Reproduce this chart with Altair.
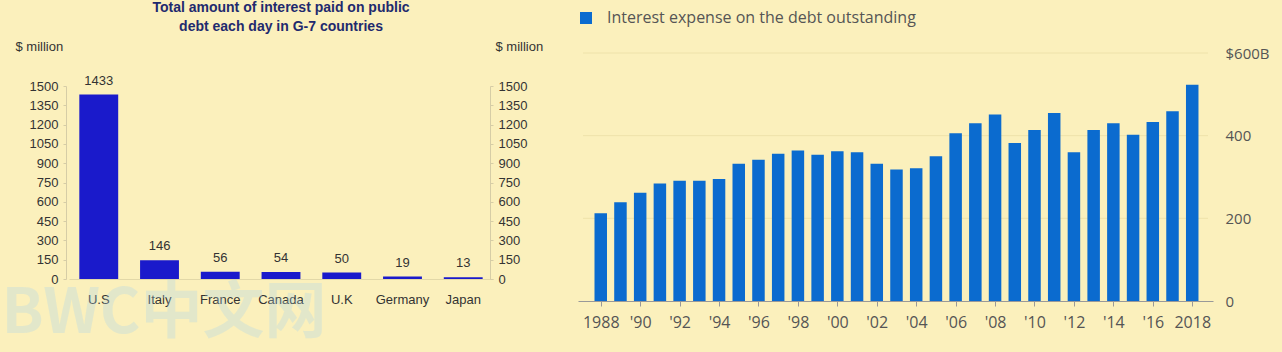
import altair as alt
import pandas as pd

# ---------------- data ----------------
countries = ["U.S", "Italy", "France", "Canada", "U.K", "Germany", "Japan"]
daily_interest = [1433, 146, 56, 54, 50, 19, 13]

years = [1988, 1989, 1990, 1991, 1992, 1993, 1994, 1995, 1996, 1997, 1998,
         1999, 2000, 2001, 2002, 2003, 2004, 2005, 2006, 2007, 2008, 2009,
         2010, 2011, 2012, 2013, 2014, 2015, 2016, 2017, 2018]
interest_expense = [212, 239, 262, 284, 291, 291, 295, 332, 342, 356, 364,
                    354, 362, 360, 332, 318, 321, 350, 406, 430, 451, 382,
                    414, 455, 360, 414, 430, 402, 433, 459, 523]

year_ticks = [1988, 1990, 1992, 1994, 1996, 1998, 2000, 2002, 2004, 2006,
              2008, 2010, 2012, 2014, 2016, 2018]
left_ticks = [0, 150, 300, 450, 600, 750, 900, 1050, 1200, 1350, 1500]
right_ticks = [0, 200, 400, 600]
grid_values = [200, 400, 600]

title_lines = ["Total amount of interest paid on public",
               "debt each day in G-7 countries"]
series_name = "Interest expense on the debt outstanding"
watermark = "BWC中文网"

left_df = pd.DataFrame({"country": countries, "value": daily_interest})
right_df = pd.DataFrame({"year": years, "value": interest_expense,
                         "series": [series_name] * len(years)})
grid_df = pd.DataFrame({"g": grid_values})

W, H = 1282, 352
LF = "Liberation Sans"
RF = "Open Sans"
BG = "#fbf0bc"

# ---------------- left panel ----------------
lx = alt.X(
    "country:N", sort=countries,
    scale=alt.Scale(range=[69, 493], paddingInner=0.36, paddingOuter=0.17),
    axis=alt.Axis(orient="bottom", offset=-73, labelAngle=0, labelFont=LF,
                  labelFontSize=13, labelColor="#333", labelPadding=14,
                  ticks=False, domainColor="#e2d8a8",
                  title=watermark, titleFont="Noto Sans CJK SC",
                  titleFontSize=62, titleFontWeight="bold",
                  titleColor="#a9d3ec", titleOpacity=0.3,
                  titleX=1, titleY=34, titleAlign="left",
                  titleBaseline="middle"),
)
ly_scale = alt.Scale(domain=[0, 1500], range=[279, 86], nice=False)

def left_axis(orient, offset, title_x):
    return alt.Axis(orient=orient, offset=offset, values=left_ticks,
                    format="d",
                    labelFont=LF, labelFontSize=13, labelColor="#333",
                    labelPadding=5, tickSize=3, tickColor="#d6cda6",
                    domainColor="#d6cda6", grid=False,
                    title="$ million", titleAngle=0, titleX=title_x,
                    titleY=46, titleAlign="left", titleBaseline="middle",
                    titleFont=LF, titleFontSize=13, titleFontWeight="normal",
                    titleColor="#333")

left_bars = alt.Chart(left_df).mark_bar(color="#1a1acb").encode(
    x=lx,
    y=alt.Y("value:Q", scale=ly_scale, axis=left_axis("left", -66, -51)),
)
left_text = alt.Chart(left_df).mark_text(
    dy=-14, font=LF, fontSize=13, color="#333"
).encode(
    x=lx,
    y=alt.Y("value:Q", scale=ly_scale, axis=left_axis("right", 490 - W, 5)),
    text="value:Q",
)
left = alt.layer(left_bars, left_text).resolve_axis(y="independent")

# ---------------- right panel ----------------
rx_scale = alt.Scale(domain=[1987.1, 2018.8], range=[578, 1213],
                     nice=False, zero=False)
rx_axis = alt.Axis(
    orient="bottom", offset=-51, values=year_ticks,
    labelExpr="datum.value == 1988 || datum.value == 2018 ? toString(datum.value) : \"'\" + substring(toString(datum.value), 2, 4)",
    labelFont=RF, labelFontSize=16, labelColor="#555", labelPadding=8,
    tickSize=5, tickColor="#999", domainColor="#999", grid=False, title=None,
)
ry_scale = alt.Scale(domain=[0, 600], range=[301, 53], nice=False)
ry_axis = alt.Axis(
    orient="right", offset=-69, values=right_ticks,
    labelExpr="datum.value == 600 ? '$600B' : datum.label",
    labelFont=RF, labelFontSize=15, labelColor="#555", labelPadding=12,
    domain=False, ticks=False, grid=False, title=None,
)

grid = alt.Chart(grid_df).mark_rule(color="#eee2aa", strokeWidth=1).encode(
    y=alt.Y("g:Q", scale=ry_scale, axis=ry_axis),
    x=alt.XDatum(1987.1, type="quantitative", scale=rx_scale, axis=rx_axis),
    x2=alt.X2Datum(2018.8),
)
right_bars = alt.Chart(right_df).mark_bar(size=12.5).encode(
    x=alt.X("year:Q", scale=rx_scale, axis=rx_axis),
    y=alt.Y("value:Q", scale=ry_scale, axis=ry_axis),
    color=alt.Color(
        "series:N", scale=alt.Scale(range=["#0b6bcf"]),
        legend=alt.Legend(orient="none", legendX=578, legendY=10, title=None,
                          symbolType="square", symbolSize=144,
                          symbolStrokeWidth=0, labelFont=RF,
                          labelFontSize=16, labelColor="#555",
                          labelOffset=13, labelLimit=0, padding=0),
    ),
)
right = alt.layer(grid, right_bars)

chart = alt.layer(left, right).resolve_scale(
    x="independent", y="independent", color="independent"
).resolve_axis(
    x="independent", y="independent"
).properties(
    width=W, height=H, padding=0,
    autosize=alt.AutoSizeParams(type="none"),
    background=BG,
    title=alt.Title(title_lines, anchor="start", align="center", dx=281,
                    dy=34, font=LF, fontSize=14, fontWeight="bold",
                    color="#1f2a6e", lineHeight=19, offset=0, frame="group"),
).configure_view(stroke=None)

chart.save("out.html", embed_options={"renderer": "svg", "actions": False})
